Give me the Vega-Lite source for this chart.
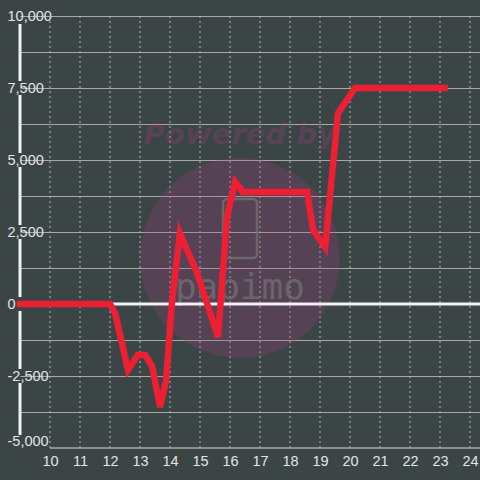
{
  "$schema": "https://vega.github.io/schema/vega-lite/v6.json",
  "width": 460,
  "height": 432,
  "autosize": {"type": "none"},
  "padding": {"left": 20, "top": 16, "right": 0, "bottom": 32},
  "background": "#3b4545",
  "config": {
    "view": {"stroke": null},
    "font": "Liberation Sans",
    "axis": {"labelFont": "Liberation Sans", "labelColor": "#e4e4e4", "labelFontSize": 14.5, "title": null, "labelOverlap": false, "labelBound": false, "labelFlush": false, "domain": false, "ticks": false, "tickSize": 0, "gridWidth": 1},
    "axisX": {"labelPadding": 6, "grid": false},
    "axisY": {"labelPadding": 13, "labelAlign": "left", "grid": true, "gridColor": "#a8a8a8"}
  },
  "datasets": {
    "series": [
      {"hour": 9, "diff": 0},
      {"hour": 12, "diff": 0},
      {"hour": 12.17, "diff": -310},
      {"hour": 12.6, "diff": -2290},
      {"hour": 12.93, "diff": -1770},
      {"hour": 13.17, "diff": -1770},
      {"hour": 13.4, "diff": -2150},
      {"hour": 13.67, "diff": -3580},
      {"hour": 13.87, "diff": -2640},
      {"hour": 14.07, "diff": 100},
      {"hour": 14.33, "diff": 2450},
      {"hour": 14.9, "diff": 1080},
      {"hour": 15.23, "diff": 35},
      {"hour": 15.6, "diff": -1145},
      {"hour": 15.9, "diff": 3020},
      {"hour": 16.17, "diff": 4240},
      {"hour": 16.43, "diff": 3890},
      {"hour": 18.57, "diff": 3890},
      {"hour": 18.77, "diff": 2570},
      {"hour": 19.17, "diff": 1980},
      {"hour": 19.6, "diff": 6630},
      {"hour": 20.17, "diff": 7500},
      {"hour": 23.15, "diff": 7500}
    ],
    "single": [{}],
    "hourTicks": [
      {"tick": 10}, {"tick": 11}, {"tick": 12}, {"tick": 13}, {"tick": 14},
      {"tick": 15}, {"tick": 16}, {"tick": 17}, {"tick": 18}, {"tick": 19},
      {"tick": 20}, {"tick": 21}, {"tick": 22}, {"tick": 23}, {"tick": 24}
    ],
    "axisSegments": [
      {"y1": 9722, "y2": 7743},
      {"y1": 7257, "y2": 5243},
      {"y1": 4757, "y2": 2743},
      {"y1": 2257, "y2": 243},
      {"y1": -243, "y2": -2257},
      {"y1": -2743, "y2": -4549}
    ]
  },
  "data": {"name": "series"},
  "layer": [
    {
      "data": {"name": "hourTicks"},
      "mark": {"type": "rule", "color": "#b8b8b8", "strokeWidth": 1, "strokeDash": [2, 3]},
      "encoding": {
        "x": {"field": "tick", "type": "quantitative", "axis": {"values": [10, 11, 12, 13, 14, 15, 16, 17, 18, 19, 20, 21, 22, 23, 24]}}
      }
    },
    {
      "data": {"name": "single"},
      "mark": {"type": "point", "shape": "circle", "filled": true, "size": 40000, "fill": "#b03c8c", "fillOpacity": 0.24, "opacity": 1, "strokeWidth": 0},
      "encoding": {
        "x": {"datum": 16.33, "type": "quantitative", "axis": {"values": [10, 11, 12, 13, 14, 15, 16, 17, 18, 19, 20, 21, 22, 23, 24]}},
        "y": {"datum": 1600, "type": "quantitative", "axis": {"values": [-5000, -3750, -2500, -1250, 0, 1250, 2500, 3750, 5000, 6250, 7500, 8750, 10000], "labelExpr": "datum.value % 2500 == 0 ? replace(format(datum.value, ','), '\u2212', '-') : ''", "labelBaseline": {"expr": "datum.value == -5000 ? 'bottom' : 'middle'"}, "gridColor": {"condition": {"test": "datum.value == -5000", "value": "transparent"}, "value": "#a8a8a8"}}}
      }
    },
    {
      "data": {"name": "single"},
      "mark": {"type": "text", "text": "Powered by", "font": "DejaVu Sans", "fontWeight": "bold", "fontStyle": "italic", "fontSize": 29, "fill": "#b03c8c", "fillOpacity": 0.26, "opacity": 1, "align": "center", "baseline": "middle"},
      "encoding": {
        "x": {"datum": 16.33, "type": "quantitative", "axis": {"values": [10, 11, 12, 13, 14, 15, 16, 17, 18, 19, 20, 21, 22, 23, 24]}},
        "y": {"datum": 5870, "type": "quantitative", "axis": {"values": [-5000, -3750, -2500, -1250, 0, 1250, 2500, 3750, 5000, 6250, 7500, 8750, 10000], "labelExpr": "datum.value % 2500 == 0 ? replace(format(datum.value, ','), '\u2212', '-') : ''", "labelBaseline": {"expr": "datum.value == -5000 ? 'bottom' : 'middle'"}, "gridColor": {"condition": {"test": "datum.value == -5000", "value": "transparent"}, "value": "#a8a8a8"}}}
      }
    },
    {
      "data": {"name": "single"},
      "mark": {"type": "rect", "filled": false, "fill": "transparent", "stroke": "#707070", "strokeOpacity": 0.8, "strokeWidth": 2.5, "cornerRadius": 4},
      "encoding": {
        "x": {"datum": 15.77, "type": "quantitative", "axis": {"values": [10, 11, 12, 13, 14, 15, 16, 17, 18, 19, 20, 21, 22, 23, 24]}},
        "x2": {"datum": 16.9},
        "y": {"datum": 3646, "type": "quantitative", "axis": {"values": [-5000, -3750, -2500, -1250, 0, 1250, 2500, 3750, 5000, 6250, 7500, 8750, 10000], "labelExpr": "datum.value % 2500 == 0 ? replace(format(datum.value, ','), '\u2212', '-') : ''", "labelBaseline": {"expr": "datum.value == -5000 ? 'bottom' : 'middle'"}, "gridColor": {"condition": {"test": "datum.value == -5000", "value": "transparent"}, "value": "#a8a8a8"}}},
        "y2": {"datum": 1597}
      }
    },
    {
      "data": {"name": "single"},
      "mark": {"type": "text", "text": "papimo", "font": "DejaVu Sans Mono", "fontSize": 36, "fill": "#707070", "fillOpacity": 0.8, "align": "center", "baseline": "middle"},
      "encoding": {
        "x": {"datum": 16.33, "type": "quantitative", "axis": {"values": [10, 11, 12, 13, 14, 15, 16, 17, 18, 19, 20, 21, 22, 23, 24]}},
        "y": {"datum": 555, "type": "quantitative", "axis": {"values": [-5000, -3750, -2500, -1250, 0, 1250, 2500, 3750, 5000, 6250, 7500, 8750, 10000], "labelExpr": "datum.value % 2500 == 0 ? replace(format(datum.value, ','), '\u2212', '-') : ''", "labelBaseline": {"expr": "datum.value == -5000 ? 'bottom' : 'middle'"}, "gridColor": {"condition": {"test": "datum.value == -5000", "value": "transparent"}, "value": "#a8a8a8"}}}
      }
    },
    {
      "data": {"name": "axisSegments"},
      "mark": {"type": "rule", "color": "#f2f2f2", "strokeWidth": 3},
      "encoding": {
        "x": {"datum": 9, "type": "quantitative", "axis": {"values": [10, 11, 12, 13, 14, 15, 16, 17, 18, 19, 20, 21, 22, 23, 24]}},
        "y": {"field": "y1", "type": "quantitative", "axis": {"values": [-5000, -3750, -2500, -1250, 0, 1250, 2500, 3750, 5000, 6250, 7500, 8750, 10000], "labelExpr": "datum.value % 2500 == 0 ? replace(format(datum.value, ','), '\u2212', '-') : ''", "labelBaseline": {"expr": "datum.value == -5000 ? 'bottom' : 'middle'"}, "gridColor": {"condition": {"test": "datum.value == -5000", "value": "transparent"}, "value": "#a8a8a8"}}},
        "y2": {"field": "y2"}
      }
    },
    {
      "data": {"name": "single"},
      "mark": {"type": "rule", "color": "#aaaaaa", "strokeWidth": 1.5},
      "encoding": {
        "x": {"datum": 10, "type": "quantitative", "axis": {"values": [10, 11, 12, 13, 14, 15, 16, 17, 18, 19, 20, 21, 22, 23, 24]}},
        "x2": {"datum": 24.333},
        "y": {"datum": -5000, "type": "quantitative", "axis": {"values": [-5000, -3750, -2500, -1250, 0, 1250, 2500, 3750, 5000, 6250, 7500, 8750, 10000], "labelExpr": "datum.value % 2500 == 0 ? replace(format(datum.value, ','), '\u2212', '-') : ''", "labelBaseline": {"expr": "datum.value == -5000 ? 'bottom' : 'middle'"}, "gridColor": {"condition": {"test": "datum.value == -5000", "value": "transparent"}, "value": "#a8a8a8"}}}
      }
    },
    {
      "data": {"name": "single"},
      "mark": {"type": "rule", "color": "#f2f2f2", "strokeWidth": 3},
      "encoding": {
        "x": {"datum": 9, "type": "quantitative", "axis": {"values": [10, 11, 12, 13, 14, 15, 16, 17, 18, 19, 20, 21, 22, 23, 24]}},
        "x2": {"datum": 24.333},
        "y": {"datum": 0, "type": "quantitative", "axis": {"values": [-5000, -3750, -2500, -1250, 0, 1250, 2500, 3750, 5000, 6250, 7500, 8750, 10000], "labelExpr": "datum.value % 2500 == 0 ? replace(format(datum.value, ','), '\u2212', '-') : ''", "labelBaseline": {"expr": "datum.value == -5000 ? 'bottom' : 'middle'"}, "gridColor": {"condition": {"test": "datum.value == -5000", "value": "transparent"}, "value": "#a8a8a8"}}}
      }
    },
    {
      "mark": {"type": "line", "color": "#ee1f33", "strokeWidth": 6.5, "strokeCap": "square", "strokeJoin": "miter"},
      "encoding": {
        "x": {
          "field": "hour", "type": "quantitative",
          "scale": {"domain": [9, 24.333], "nice": false, "zero": false},
          "axis": {"values": [10, 11, 12, 13, 14, 15, 16, 17, 18, 19, 20, 21, 22, 23, 24]}
        },
        "y": {
          "field": "diff", "type": "quantitative",
          "scale": {"domain": [-5000, 10000], "nice": false},
          "axis": {"values": [-5000, -3750, -2500, -1250, 0, 1250, 2500, 3750, 5000, 6250, 7500, 8750, 10000], "labelExpr": "datum.value % 2500 == 0 ? replace(format(datum.value, ','), '\u2212', '-') : ''", "labelBaseline": {"expr": "datum.value == -5000 ? 'bottom' : 'middle'"}, "gridColor": {"condition": {"test": "datum.value == -5000", "value": "transparent"}, "value": "#a8a8a8"}}
        }
      }
    }
  ]
}
